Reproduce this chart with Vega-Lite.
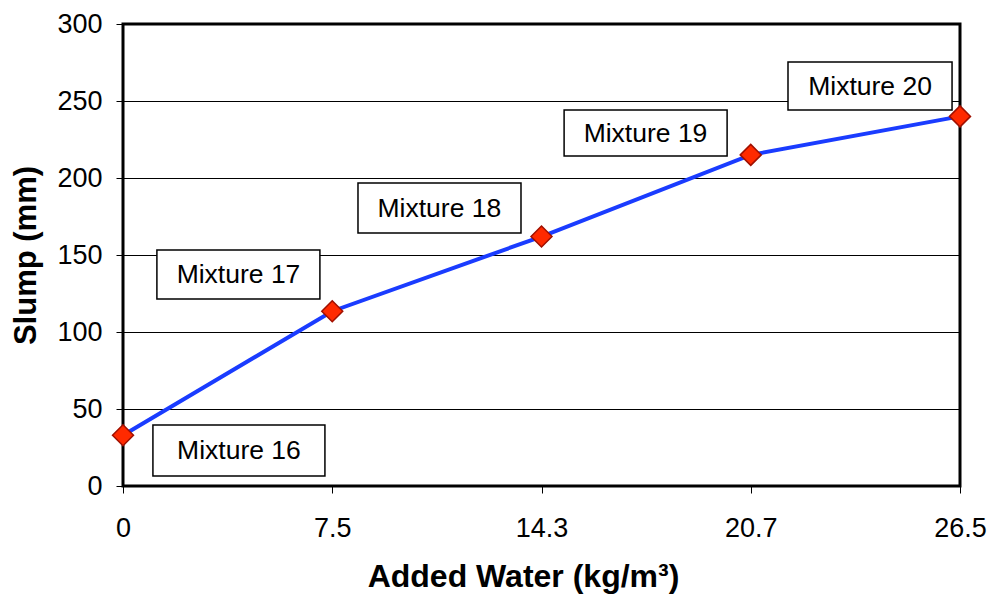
{
  "$schema": "https://vega.github.io/schema/vega-lite/v6.json",
  "autosize": "none",
  "width": 837,
  "height": 462,
  "padding": {"left": 123, "top": 24, "right": 37, "bottom": 114},
  "background": "white",
  "config": {
    "font": "Liberation Sans",
    "view": {"stroke": "black", "strokeWidth": 3},
    "axis": {"labelFont": "Liberation Sans", "titleFont": "Liberation Sans", "labelColor": "black", "titleColor": "black", "tickColor": "black", "domain": false}
  },
  "datasets": {
    "points": [
      {"category": 1, "water": "0", "slump": 33, "mixture": "Mixture 16"},
      {"category": 2, "water": "7.5", "slump": 113.5, "mixture": "Mixture 17"},
      {"category": 3, "water": "14.3", "slump": 162, "mixture": "Mixture 18"},
      {"category": 4, "water": "20.7", "slump": 215, "mixture": "Mixture 19"},
      {"category": 5, "water": "26.5", "slump": 240, "mixture": "Mixture 20"}
    ],
    "labels": [
      {"mixture": "Mixture 16", "x1": 1.143, "x2": 1.965, "y1": 6.5, "y2": 39.6, "xc": 1.554, "yc": 22.5},
      {"mixture": "Mixture 17", "x1": 1.162, "x2": 1.941, "y1": 121.4, "y2": 153.2, "xc": 1.552, "yc": 136.8},
      {"mixture": "Mixture 18", "x1": 2.123, "x2": 2.902, "y1": 164.3, "y2": 196.8, "xc": 2.512, "yc": 180},
      {"mixture": "Mixture 19", "x1": 3.108, "x2": 3.887, "y1": 214.3, "y2": 244.2, "xc": 3.497, "yc": 228.7},
      {"mixture": "Mixture 20", "x1": 4.178, "x2": 4.962, "y1": 244.2, "y2": 275.3, "xc": 4.57, "yc": 259.2}
    ]
  },
  "layer": [
    {
      "data": {"name": "points"},
      "mark": {"type": "line", "color": "#1a3cff", "strokeWidth": 4},
      "encoding": {
        "x": {
          "field": "category", "type": "quantitative",
          "scale": {"domain": [1, 5], "nice": false, "zero": false},
          "axis": {
            "values": [1, 2, 3, 4, 5],
            "labelExpr": "['0','7.5','14.3','20.7','26.5'][datum.value - 1]",
            "labelFlush": false, "labelOverlap": false, "labelBound": false,
            "grid": false, "tickSize": 7, "tickWidth": 1, "labelFontSize": 27, "labelPadding": 22,
            "title": "Added Water (kg/m³)", "titleFontSize": 32, "titleFontWeight": "bold", "titlePadding": 20, "titleX": 400
          }
        },
        "y": {
          "field": "slump", "type": "quantitative",
          "scale": {"domain": [0, 300], "nice": false},
          "axis": {
            "values": [0, 50, 100, 150, 200, 250, 300],
            "labelFlush": false, "labelOverlap": false,
            "grid": true, "gridColor": "black", "gridWidth": 1, "gridOpacity": 1,
            "tickSize": 7, "tickWidth": 1, "labelFontSize": 27, "labelPadding": 14,
            "title": "Slump (mm)", "titleFontSize": 31, "titleFontWeight": "bold", "titlePadding": 14
          }
        }
      }
    },
    {
      "data": {"name": "points"},
      "mark": {"type": "point", "shape": "diamond", "filled": true, "size": 440, "color": "#ff2a00", "stroke": "#a01000", "strokeWidth": 1.5, "opacity": 1},
      "encoding": {
        "x": {"field": "category", "type": "quantitative"},
        "y": {"field": "slump", "type": "quantitative"}
      }
    },
    {
      "data": {"name": "labels"},
      "mark": {"type": "rect", "fill": "white", "stroke": "black", "strokeWidth": 1.5},
      "encoding": {
        "x": {"field": "x1", "type": "quantitative"},
        "x2": {"field": "x2"},
        "y": {"field": "y1", "type": "quantitative"},
        "y2": {"field": "y2"}
      }
    },
    {
      "data": {"name": "labels"},
      "mark": {"type": "text", "fontSize": 26.5, "color": "black", "align": "center", "baseline": "middle"},
      "encoding": {
        "x": {"field": "xc", "type": "quantitative"},
        "y": {"field": "yc", "type": "quantitative"},
        "text": {"field": "mixture"}
      }
    }
  ]
}
